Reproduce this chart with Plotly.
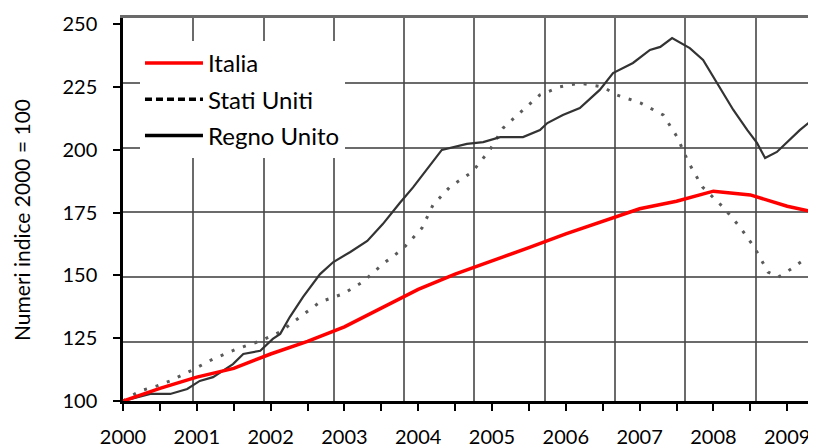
import plotly.graph_objects as go

# ---- data ----
italia_x = [2000.0, 2000.5, 2001.0, 2001.5, 2002.0, 2002.5, 2003.0, 2003.5, 2004.0, 2004.5,
            2005.0, 2005.5, 2006.0, 2006.5, 2007.0, 2007.5, 2008.0, 2008.5, 2009.0, 2009.39]
italia_y = [100, 105, 109.5, 113, 118.7, 123.7, 129.5, 136.8, 144.4, 150.5,
            155.6, 161, 166.5, 171.5, 176.5, 179.5, 183.5, 182, 177.5, 175]

usa_x = [2000.0, 2000.23, 2000.46, 2000.64, 2000.91, 2001.22, 2001.54, 2001.86, 2002.13, 2002.40,
         2002.67, 2002.98, 2003.25, 2003.52, 2003.79, 2004.05, 2004.20, 2004.43, 2004.73, 2004.97,
         2005.15, 2005.42, 2005.65, 2005.92, 2006.18, 2006.50, 2006.69, 2007.01, 2007.32, 2007.51,
         2007.66, 2007.85, 2008.13, 2008.36, 2008.56, 2008.74, 2008.88, 2009.01, 2009.28, 2009.39]
usa_y = [100, 104, 106, 108, 111.9, 116.7, 120.7, 123.9, 127.5, 133.4,
         139.4, 142.6, 147.4, 154.5, 160.5, 168.8, 178, 185.2, 191.1, 199.9,
         208.6, 215.8, 221.8, 225, 226.5, 225, 221.8, 218.6, 213.8, 205,
         195.1, 185.2, 177.2, 169.2, 160.9, 151.3, 149.3, 151.7, 157.3, 158]

uk_x = [2000.0, 2000.37, 2000.64, 2000.87, 2001.04, 2001.22, 2001.49, 2001.63, 2001.86, 2002.03,
        2002.13, 2002.26, 2002.44, 2002.67, 2002.85, 2003.08, 2003.31, 2003.52, 2003.75, 2003.93,
        2004.32, 2004.66, 2004.88, 2005.11, 2005.42, 2005.65, 2005.75, 2005.96, 2006.19, 2006.46,
        2006.64, 2006.91, 2007.14, 2007.28, 2007.44, 2007.68, 2007.86, 2008.05, 2008.27, 2008.46,
        2008.59, 2008.70, 2008.86, 2009.17, 2009.39]
uk_y = [100, 102.8, 102.8, 104.8, 108, 109.5, 114.7, 118.7, 120, 124.7,
        126.7, 133.4, 141.4, 150.5, 155.3, 159.3, 163.7, 170.4, 178.8, 185,
        199.9, 202.3, 203, 205, 205, 207.8, 210.6, 213.8, 216.6, 223.8,
        230.5, 234.5, 239.7, 240.9, 244.4, 240.4, 235.7, 226.5, 215.8, 207.8,
        202.7, 196.7, 199.1, 207.8, 213]

x_tickvals = [2000 + 0.5 * i for i in range(20)]
x_ticktext = [str(2000 + i // 2) if i % 2 == 0 else "" for i in range(20)]
y_tickvals = [100, 125, 150, 175, 200, 225, 250]
y_title = "Numeri indice 2000 = 100"

FONT = "Lato"

fig = go.Figure()

# scanned-chart style series (no legend)
fig.add_trace(go.Scatter(x=usa_x, y=usa_y, mode="lines", showlegend=False,
                         line=dict(color="#5a5a5a", width=3, dash="3px,9px")))
fig.add_trace(go.Scatter(x=uk_x, y=uk_y, mode="lines", showlegend=False,
                         line=dict(color="#333333", width=2.2)))
fig.add_trace(go.Scatter(x=italia_x, y=italia_y, mode="lines", showlegend=False,
                         line=dict(color="#ff0000", width=3.5)))

# legend entries
fig.add_trace(go.Scatter(x=[None], y=[None], mode="lines", name="Italia",
                         legendgroup="a", line=dict(color="#ff0000", width=3.5)))
fig.add_trace(go.Scatter(x=[None], y=[None], mode="lines", name="Stati Uniti",
                         legendgroup="b", line=dict(color="#000000", width=3.5, dash="7px,4px")))
fig.add_trace(go.Scatter(x=[None], y=[None], mode="lines", name="Regno Unito",
                         legendgroup="c", line=dict(color="#000000", width=3.5)))

# invisible trace for the scanned grid axes
fig.add_trace(go.Scatter(x=[0], y=[0], xaxis="x2", yaxis="y2", mode="markers",
                         marker=dict(opacity=0), showlegend=False, hoverinfo="skip"))

fig.update_layout(
    width=808, height=440,
    margin=dict(l=115, r=0, t=10, b=47),
    paper_bgcolor="white", plot_bgcolor="white",
    font=dict(family=FONT, size=20, color="black"),
    showlegend=True,
    legend=dict(x=0.0245, y=0.94, xanchor="left", yanchor="top",
                bgcolor="white", borderwidth=0, font=dict(size=24, family=FONT),
                tracegroupgap=2, traceorder="grouped", itemwidth=58),
    xaxis=dict(range=[2000, 2009.39], tickvals=x_tickvals, ticktext=x_ticktext,
               showgrid=False, zeroline=False, showline=True, linecolor="black", linewidth=2.5,
               ticks="outside", ticklen=7, tickwidth=2, tickcolor="black", automargin=False,
               ticklabelstandoff=9, tickfont=dict(size=20, family=FONT), layer="above traces"),
    yaxis=dict(range=[100, 252.4], tickvals=y_tickvals, automargin=False,
               showgrid=False, zeroline=False, showline=True, linecolor="black", linewidth=2.5,
               ticks="outside", ticklen=7, tickwidth=2, tickcolor="black",
               ticklabelstandoff=12, tickfont=dict(size=20, family=FONT)),
    xaxis2=dict(overlaying="x", side="top", range=[0, 9.86], dtick=1, tick0=0,
                showgrid=True, gridcolor="rgba(70,70,70,0.8)", gridwidth=1.8, automargin=False,
                showticklabels=False, ticks="", zeroline=False,
                showline=True, linecolor="rgba(90,90,90,0.9)", linewidth=3, layer="below traces"),
    yaxis2=dict(overlaying="y", side="right", range=[-0.91, 5.0], dtick=1, tick0=0,
                showgrid=True, gridcolor="rgba(70,70,70,0.8)", gridwidth=1.8, automargin=False,
                showticklabels=False, ticks="", zeroline=False, showline=False, layer="below traces"),
    annotations=[dict(text=y_title, textangle=-90, xref="paper", yref="paper",
                      x=-0.1457, y=0.4726, xanchor="center", yanchor="middle",
                      showarrow=False, font=dict(size=21, family=FONT, color="black"))],
)

fig.write_html("out.html")
